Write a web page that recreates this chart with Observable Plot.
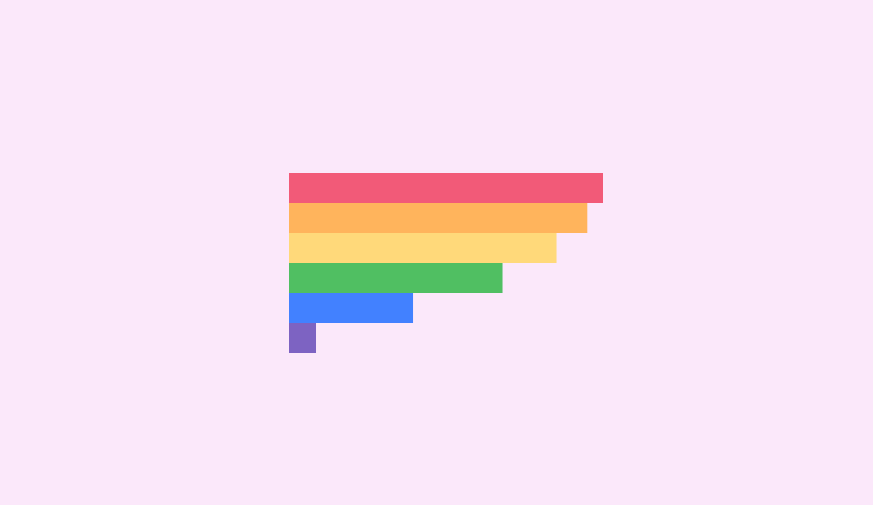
<!DOCTYPE html>
<html>
<head>
<meta charset="utf-8">
<script src="https://cdn.jsdelivr.net/npm/d3@7"></script>
<script src="https://cdn.jsdelivr.net/npm/@observablehq/plot@0.6"></script>
<style>
  html, body { margin: 0; padding: 0; background: #fbe8fa; }
  #chart svg { display: block; }
</style>
</head>
<body>
<div id="chart"></div>
<script>
const categories = ["Red", "Orange", "Yellow", "Green", "Blue", "Purple"];
const values = [100, 95, 85.2, 68, 39.5, 8.6];
const colors = ["#f25a78", "#ffb45c", "#ffd97a", "#50bf62", "#4281ff", "#7d63c2"];

const data = categories.map((c, i) => ({ category: c, value: values[i], color: colors[i] }));

const chart = Plot.plot({
  width: 873,
  height: 505,
  margin: 0,
  style: { background: "#fbe8fa" },
  x: { domain: [0, 100], range: [289, 603], axis: null },
  y: { domain: categories, range: [173, 353], padding: 0, axis: null },
  marks: [
    Plot.barX(data, { x: "value", y: "category", fill: "color" })
  ]
});
document.getElementById("chart").appendChild(chart);
</script>
</body>
</html>
